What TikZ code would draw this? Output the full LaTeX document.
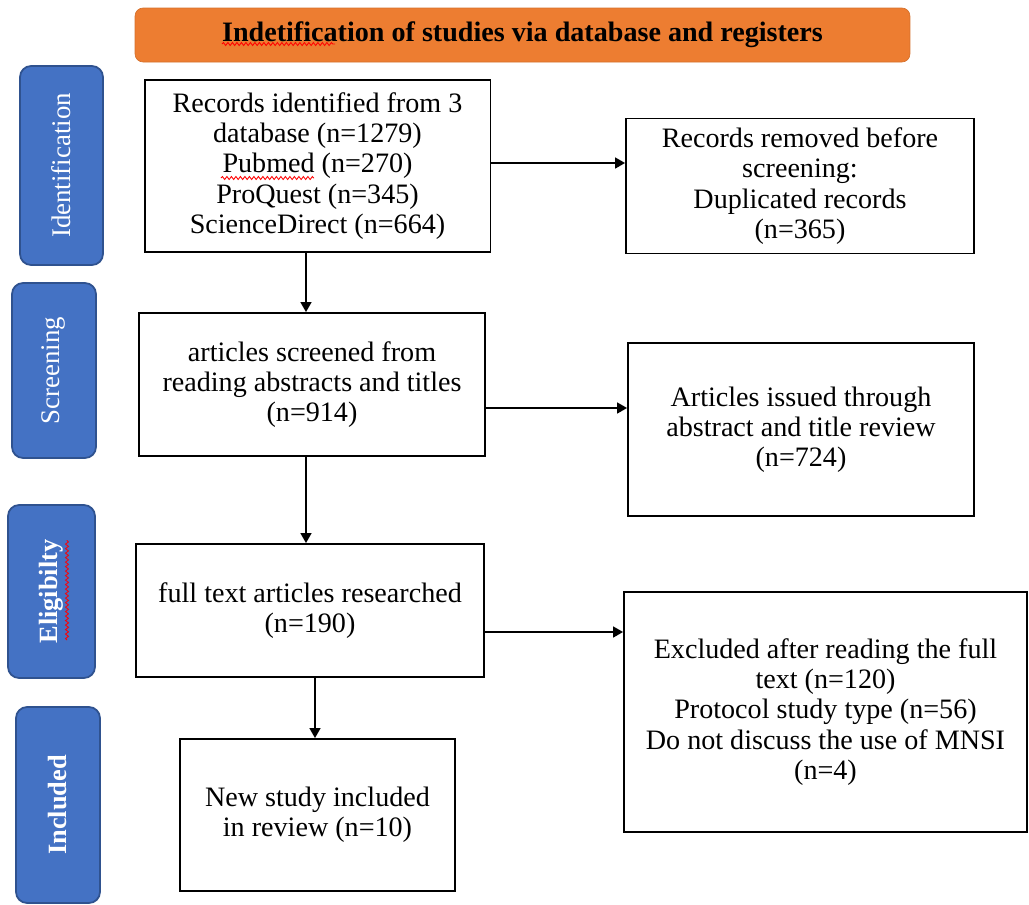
\documentclass[tikz,border=0pt]{standalone}
\usepackage{fontspec}
\setmainfont{Liberation Serif}
\usetikzlibrary{arrows.meta,decorations.pathmorphing}
\definecolor{headorange}{HTML}{ED7D31}
\definecolor{stageblue}{HTML}{4472C4}
\definecolor{stageedge}{HTML}{2F528F}
\tikzset{
  stage/.style={draw=stageedge,line width=1pt,fill=stageblue,rounded corners=0.22cm,
    rotate=90,text=white,font=\fontsize{15.3}{17}\selectfont,inner sep=0pt},
  box/.style={draw,line width=1.1pt,align=center,inner sep=0pt,
    font=\fontsize{16}{17.2}\selectfont},
  arr/.style={line width=0.9pt,-{Triangle[length=0.2cm,width=0.22cm]}},
  spell/.style={red,line width=0.5pt,decorate,
    decoration={snake,segment length=0.09cm,amplitude=0.03cm}}
}
\begin{document}
\begin{tikzpicture}[x=0.02cm,y=-0.02cm]
  \useasboundingbox (0,0) rectangle (1029,904);
  % heading
  \node[draw=headorange!90!black,fill=headorange,rounded corners=0.16cm,
    minimum width=15.5cm,minimum height=1.08cm,inner sep=0pt,
    font=\fontsize{16}{17}\selectfont\bfseries] (head) at (522.5,35)
    {Indetification of studies via database and registers};
  \draw[spell] (222,44) -- (335,44);

  % stages
  \node[stage,minimum width=3.98cm,minimum height=1.66cm] (ident) at (61.5,165.5) {Identification};
  \node[stage,minimum width=3.5cm,minimum height=1.68cm] (screen) at (54,370.5) {Screening};
  \node[stage,minimum width=3.46cm,minimum height=1.74cm,font=\fontsize{15}{17}\selectfont\bfseries] (elig) at (51.5,591.5) {Eligibilty};
  \draw[spell] (67,640) -- (67,540);
  \node[stage,minimum width=3.92cm,minimum height=1.68cm,font=\fontsize{15}{17}\selectfont\bfseries] (incl) at (58,805) {Included};

  % boxes
  \node[box,minimum width=6.92cm,minimum height=3.44cm] (rec) at (317.5,166)
    {Records identified from 3\\database (n=1279)\\Pubmed (n=270)\\ProQuest (n=345)\\ScienceDirect (n=664)};
  \draw[spell] (221,178) -- (314,178);
  \node[box,minimum width=6.96cm,minimum height=2.7cm] (rem) at (800,186)
    {Records removed before\\screening:\\Duplicated records\\(n=365)};
  \node[box,minimum width=6.92cm,minimum height=2.86cm] (scr) at (312,384.5)
    {articles screened from\\reading abstracts and titles\\(n=914)};
  \node[box,minimum width=6.92cm,minimum height=3.46cm] (iss) at (801,429.5)
    {Articles issued through\\abstract and title review\\(n=724)};
  \node[box,minimum width=6.96cm,minimum height=2.66cm] (full) at (310,610.5)
    {full text articles researched\\(n=190)};
  \node[box,minimum width=8.06cm,minimum height=4.8cm] (excl) at (825.5,712)
    {Excluded after reading the full\\text (n=120)\\Protocol study type (n=56)\\Do not discuss the use of MNSI\\(n=4)};
  \node[box,minimum width=5.5cm,minimum height=3.04cm] (inc) at (317.5,815)
    {New study included\\in review (n=10)};

  % arrows
  \draw[arr] ([xshift=-0.23cm]rec.south) coordinate (r1) -- (r1 |- scr.north);
  \draw[arr] ([yshift=0.06cm]rec.east) coordinate (r2) -- (r2 -| rem.west);
  \draw[arr] ([yshift=-0.47cm]scr.east) coordinate (s1) -- (s1 -| iss.west);
  \draw[arr] ([xshift=-0.12cm]scr.south) coordinate (s2) -- (s2 |- full.north);
  \draw[arr] ([yshift=-0.43cm]full.east) coordinate (f1) -- (f1 -| excl.west);
  \draw[arr] ([xshift=0.1cm]full.south) coordinate (f2) -- (f2 |- inc.north);
\end{tikzpicture}
\end{document}
